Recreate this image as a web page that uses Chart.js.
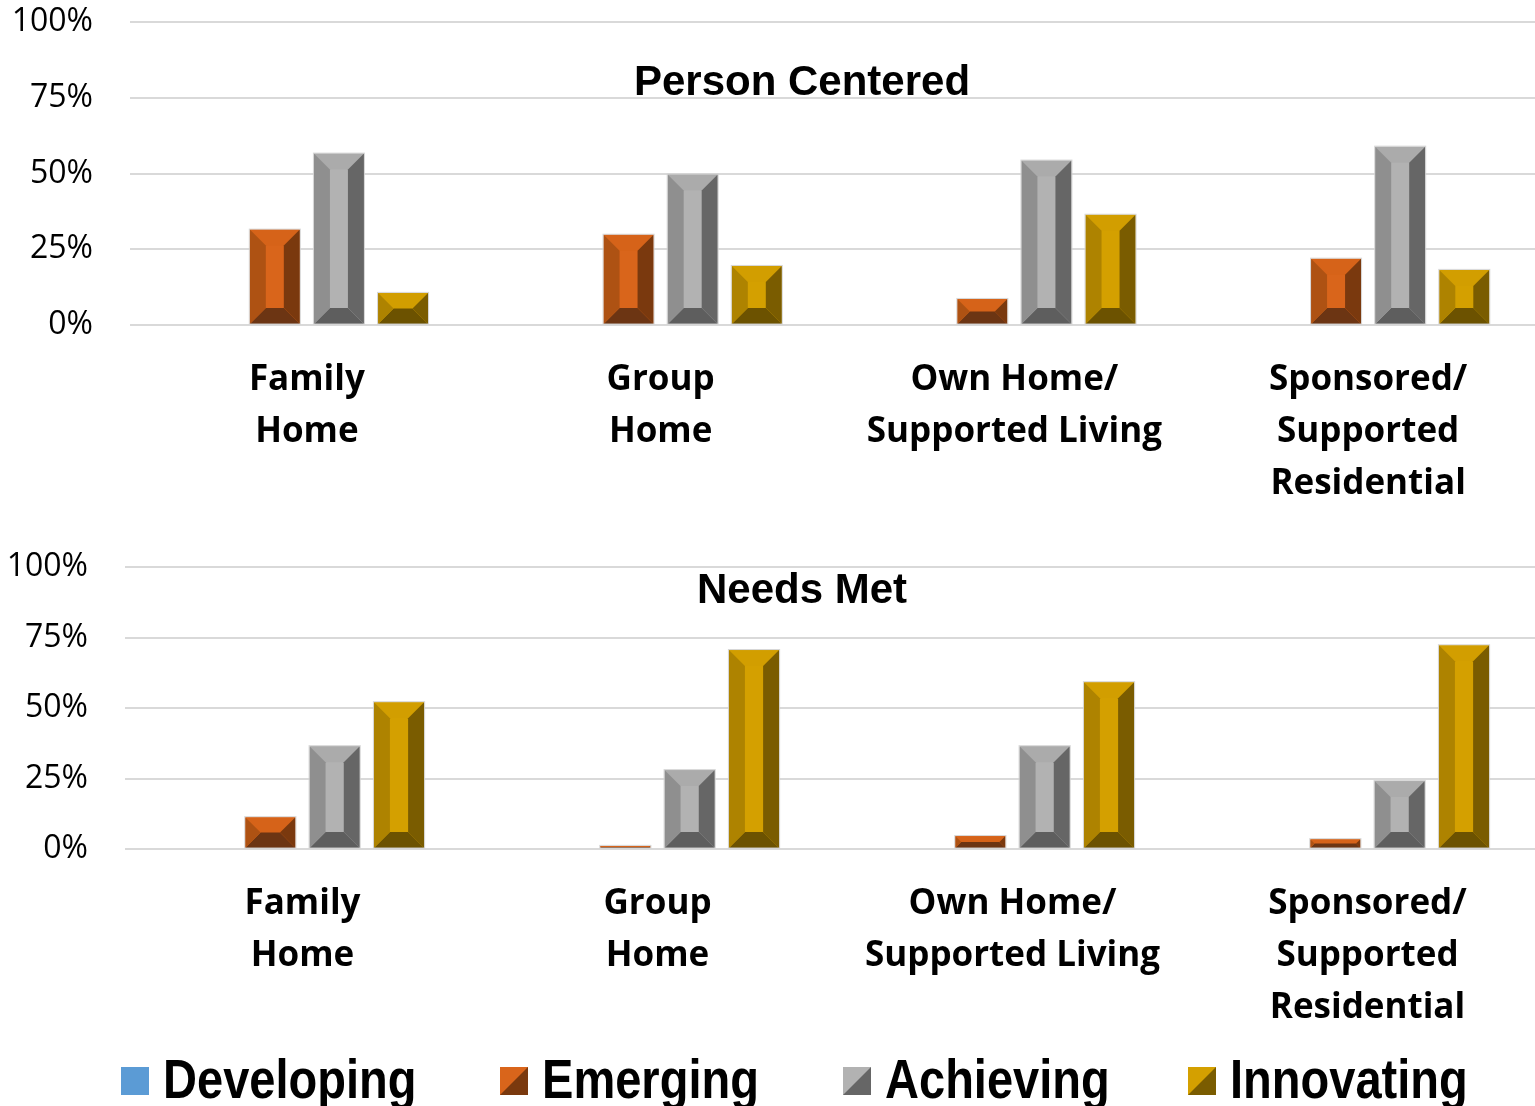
<!DOCTYPE html>
<html>
<head>
<meta charset="utf-8">
<script src="https://cdn.jsdelivr.net/npm/chart.js@4.4.1/dist/chart.umd.min.js"></script>
<style>
    html, body { margin: 0; padding: 0; background: #fff; width: 1535px; height: 1106px; overflow: hidden; position: relative; }
    .panel { position: absolute; left: 0; width: 1545px; }
    #topPanel { top: -34px; height: 559px; }
    #bottomPanel { top: 511px; height: 538px; }
    .title {
        position: absolute; left: 0; width: 1604px; text-align: center;
        font-family: "Liberation Sans", Arial, sans-serif; font-weight: bold;
        font-size: 42px; line-height: 42px; color: #000;
    }
    .item {
        position: absolute; top: 1051px; height: 56px;
        font-family: "Liberation Sans", Arial, sans-serif; font-weight: bold;
        font-size: 56px; line-height: 56px; color: #000; white-space: nowrap;
    }
    .item canvas { position: absolute; left: 0; top: 16px; }
    .item span { position: absolute; left: 42px; top: 0; display: inline-block; transform: scaleX(0.84); transform-origin: 0 0; }
</style>
</head>
<body>
<div class="panel" id="topPanel"><canvas id="personChart"></canvas></div>
<div class="panel" id="bottomPanel"><canvas id="needsChart"></canvas></div>
<div class="title" style="top:60px">Person Centered</div>
<div class="title" style="top:568px">Needs Met</div>
<div id="legend"></div>

<script>
// categories and series
const categories = [
    ['Family', 'Home'],
    ['Group', 'Home'],
    ['Own Home/', 'Supported Living'],
    ['Sponsored/', 'Supported', 'Residential']
];
const seriesNames = ['Developing', 'Emerging', 'Achieving', 'Innovating'];

// Person Centered (%)
const personDeveloping = [0, 0, 0, 0];
const personEmerging   = [31.5, 29.8, 8.6, 21.9];
const personAchieving  = [56.6, 49.7, 54.3, 58.9];
const personInnovating = [10.6, 19.5, 36.4, 18.2];

// Needs Met (%)
const needsDeveloping = [0, 0, 0, 0];
const needsEmerging   = [11.3, 1.1, 4.6, 3.5];
const needsAchieving  = [36.5, 28.0, 36.5, 24.1];
const needsInnovating = [52.1, 70.6, 59.2, 72.3];

const yTicks = [0, 25, 50, 75, 100];

// bevel colours per series: centre, top, left, right, bottom
const bevelColors = [
    { c: '#5B9BD5', t: '#5B9BD5', l: '#5B9BD5', r: '#5B9BD5', b: '#5B9BD5' },
    { c: '#D9651B', t: '#D66319', l: '#AE5213', r: '#7A390E', b: '#6C3513' },
    { c: '#B2B2B2', t: '#ABABAB', l: '#8F8F8F', r: '#666666', b: '#5E5E5E' },
    { c: '#D4A000', t: '#D29E00', l: '#AE8300', r: '#7A5C00', b: '#6C5200' }
];
// legend swatch left edges
const legendLeft = [121, 500, 843, 1188];

function poly(ctx, pts, color) {
    ctx.beginPath();
    ctx.moveTo(pts[0][0], pts[0][1]);
    for (let i = 1; i < pts.length; i++) ctx.lineTo(pts[i][0], pts[i][1]);
    ctx.closePath();
    ctx.fillStyle = color;
    ctx.fill();
}

// draws the bevelled look over every bar element
const bevelPlugin = {
    id: 'bevel',
    afterDatasetsDraw(chart) {
        const ctx = chart.ctx;
        ctx.save();
        chart.data.datasets.forEach((ds, di) => {
            const meta = chart.getDatasetMeta(di);
            const col = bevelColors[di];
            meta.data.forEach(bar => {
                const p = bar.getProps(['x', 'y', 'base', 'width'], true);
                const L = p.x - p.width / 2, R = p.x + p.width / 2;
                const T = Math.min(p.y, p.base), B = Math.max(p.y, p.base);
                const h = B - T;
                if (h < 0.5) return;
                const s = Math.min(16, h / 2, p.width / 2);
                poly(ctx, [[L, T], [R, T], [R, B], [L, B]], col.c);
                poly(ctx, [[L, T], [R, T], [R - s, T + s], [L + s, T + s]], col.t);
                poly(ctx, [[L, B], [R, B], [R - s, B - s], [L + s, B - s]], col.b);
                poly(ctx, [[L, T], [L + s, T + s], [L + s, B - s], [L, B]], col.l);
                poly(ctx, [[R, T], [R - s, T + s], [R - s, B - s], [R, B]], col.r);
                ctx.strokeStyle = 'rgba(210,210,210,0.9)';
                ctx.lineWidth = 1;
                ctx.strokeRect(L - 0.5, T - 0.5, p.width + 1, h + 0.5);
            });
        });
        ctx.restore();
    }
};

function makeChart(id, values, axisWidth) {
    const ctx = document.getElementById(id).getContext('2d');
    return new Chart(ctx, {
        type: 'bar',
        data: {
            labels: categories,
            datasets: seriesNames.map((name, i) => ({
                label: name,
                data: values[i],
                backgroundColor: 'rgba(0,0,0,0)',
                borderWidth: 0,
                categoryPercentage: 0.725,
                barPercentage: 0.78
            }))
        },
        options: {
            responsive: true,
            maintainAspectRatio: false,
            animation: false,
            layout: { padding: 0 },
            plugins: { legend: { display: false }, tooltip: { enabled: false } },
            scales: {
                x: {
                    grid: { display: false, drawTicks: false },
                    border: { display: false },
                    ticks: {
                        color: '#000',
                        padding: 29,
                        maxRotation: 0,
                        autoSkip: false,
                        font: { family: '"Open Sans"', size: 35, weight: 'bold', lineHeight: 1.49 }
                    },
                    afterFit(scale) { scale.height = 200; }
                },
                y: {
                    min: 0,
                    max: 100,
                    afterBuildTicks(scale) { scale.ticks = yTicks.map(v => ({ value: v })); },
                    grid: { color: '#D9D9D9', lineWidth: 2, drawTicks: false },
                    border: { display: false },
                    ticks: {
                        color: '#000',
                        padding: 37,
                        font: { family: '"Open Sans"', size: 32 },
                        callback: v => v + '%'
                    },
                    afterFit(scale) { scale.width = axisWidth; }
                }
            }
        },
        plugins: [bevelPlugin]
    });
}

makeChart('personChart', [personDeveloping, personEmerging, personAchieving, personInnovating], 130);
makeChart('needsChart', [needsDeveloping, needsEmerging, needsAchieving, needsInnovating], 125);

// legend with bevel-style swatches
const legend = document.getElementById('legend');
seriesNames.forEach((name, i) => {
    const item = document.createElement('div');
    item.className = 'item';
    item.style.left = legendLeft[i] + 'px';
    const sw = document.createElement('canvas');
    sw.width = 28; sw.height = 28;
    const c = sw.getContext('2d');
    const col = bevelColors[i];
    c.fillStyle = col.c;
    c.fillRect(0, 0, 28, 28);
    if (i > 0) {
        poly(c, [[0, 0], [28, 0], [0, 28]], col.c);
        poly(c, [[28, 0], [28, 28], [0, 28]], col.r);
    }
    const txt = document.createElement('span');
    txt.textContent = name;
    item.appendChild(sw);
    item.appendChild(txt);
    legend.appendChild(item);
});
</script>
</body>
</html>
